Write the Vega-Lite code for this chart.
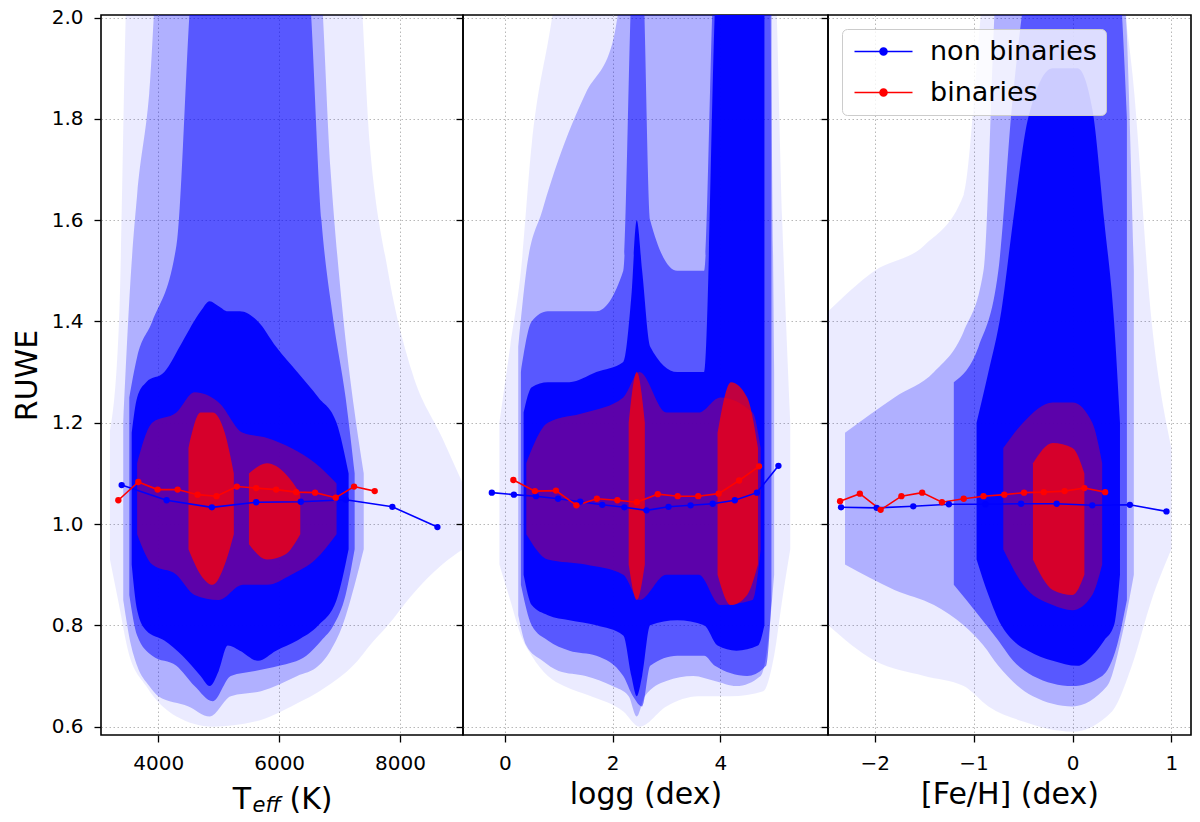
{
  "$schema": "https://vega.github.io/schema/vega-lite/v6.json",
  "padding": {"left": 11, "top": 6, "right": 5, "bottom": 5},
  "bounds": "flush",
  "spacing": 0,
  "datasets": {
    "teff_cloud": [
      {"level": "halo", "part": "a", "x": 3200, "lo": 0.93, "hi": 1.18},
      {"level": "halo", "part": "a", "x": 3350, "lo": 0.84, "hi": 1.4},
      {"level": "halo", "part": "a", "x": 3500, "lo": 0.75, "hi": 2.1},
      {"level": "halo", "part": "a", "x": 3800, "lo": 0.68, "hi": 2.1},
      {"level": "halo", "part": "a", "x": 4300, "lo": 0.62, "hi": 2.1},
      {"level": "halo", "part": "a", "x": 4900, "lo": 0.6, "hi": 2.1},
      {"level": "halo", "part": "a", "x": 5600, "lo": 0.61, "hi": 2.1},
      {"level": "halo", "part": "a", "x": 6200, "lo": 0.64, "hi": 2.1},
      {"level": "halo", "part": "a", "x": 6800, "lo": 0.68, "hi": 2.1},
      {"level": "halo", "part": "a", "x": 7300, "lo": 0.73, "hi": 2.1},
      {"level": "halo", "part": "a", "x": 7500, "lo": 0.76, "hi": 1.75},
      {"level": "halo", "part": "a", "x": 7800, "lo": 0.8, "hi": 1.5},
      {"level": "halo", "part": "a", "x": 8200, "lo": 0.86, "hi": 1.3},
      {"level": "halo", "part": "a", "x": 8700, "lo": 0.92, "hi": 1.17},
      {"level": "halo", "part": "a", "x": 9040, "lo": 0.95, "hi": 1.08},
      {"level": "mid", "part": "a", "x": 3420, "lo": 0.85, "hi": 1.2},
      {"level": "mid", "part": "a", "x": 3550, "lo": 0.76, "hi": 1.5},
      {"level": "mid", "part": "a", "x": 3650, "lo": 0.72, "hi": 1.65},
      {"level": "mid", "part": "a", "x": 3850, "lo": 0.68, "hi": 1.85},
      {"level": "mid", "part": "a", "x": 4000, "lo": 0.66, "hi": 2.1},
      {"level": "mid", "part": "a", "x": 4500, "lo": 0.64, "hi": 2.1},
      {"level": "mid", "part": "a", "x": 4850, "lo": 0.62, "hi": 2.1},
      {"level": "mid", "part": "a", "x": 5200, "lo": 0.66, "hi": 2.1},
      {"level": "mid", "part": "a", "x": 5700, "lo": 0.67, "hi": 2.1},
      {"level": "mid", "part": "a", "x": 6300, "lo": 0.7, "hi": 2.1},
      {"level": "mid", "part": "a", "x": 6650, "lo": 0.72, "hi": 2.1},
      {"level": "mid", "part": "a", "x": 6850, "lo": 0.75, "hi": 1.7},
      {"level": "mid", "part": "a", "x": 7050, "lo": 0.8, "hi": 1.42},
      {"level": "mid", "part": "a", "x": 7250, "lo": 0.88, "hi": 1.22},
      {"level": "mid", "part": "a", "x": 7400, "lo": 0.95, "hi": 1.1},
      {"level": "thick", "part": "a", "x": 3520, "lo": 0.86, "hi": 1.25},
      {"level": "thick", "part": "a", "x": 3650, "lo": 0.78, "hi": 1.33},
      {"level": "thick", "part": "a", "x": 3900, "lo": 0.74, "hi": 1.4},
      {"level": "thick", "part": "a", "x": 4300, "lo": 0.72, "hi": 1.55},
      {"level": "thick", "part": "a", "x": 4600, "lo": 0.68, "hi": 2.1},
      {"level": "thick", "part": "a", "x": 4900, "lo": 0.65, "hi": 2.1},
      {"level": "thick", "part": "a", "x": 5200, "lo": 0.7, "hi": 2.1},
      {"level": "thick", "part": "a", "x": 5600, "lo": 0.71, "hi": 2.1},
      {"level": "thick", "part": "a", "x": 6000, "lo": 0.72, "hi": 2.1},
      {"level": "thick", "part": "a", "x": 6450, "lo": 0.74, "hi": 2.1},
      {"level": "thick", "part": "a", "x": 6700, "lo": 0.77, "hi": 1.6},
      {"level": "thick", "part": "a", "x": 6900, "lo": 0.8, "hi": 1.4},
      {"level": "thick", "part": "a", "x": 7100, "lo": 0.86, "hi": 1.25},
      {"level": "thick", "part": "a", "x": 7250, "lo": 0.95, "hi": 1.1},
      {"level": "dense", "part": "a", "x": 3560, "lo": 0.92, "hi": 1.18},
      {"level": "dense", "part": "a", "x": 3650, "lo": 0.83, "hi": 1.25},
      {"level": "dense", "part": "a", "x": 3800, "lo": 0.79, "hi": 1.28},
      {"level": "dense", "part": "a", "x": 4100, "lo": 0.77, "hi": 1.3},
      {"level": "dense", "part": "a", "x": 4400, "lo": 0.74, "hi": 1.36},
      {"level": "dense", "part": "a", "x": 4700, "lo": 0.7, "hi": 1.42},
      {"level": "dense", "part": "a", "x": 4850, "lo": 0.68, "hi": 1.44},
      {"level": "dense", "part": "a", "x": 5000, "lo": 0.71, "hi": 1.43},
      {"level": "dense", "part": "a", "x": 5150, "lo": 0.76, "hi": 1.42},
      {"level": "dense", "part": "a", "x": 5350, "lo": 0.75, "hi": 1.42},
      {"level": "dense", "part": "a", "x": 5650, "lo": 0.73, "hi": 1.4},
      {"level": "dense", "part": "a", "x": 5950, "lo": 0.75, "hi": 1.35},
      {"level": "dense", "part": "a", "x": 6300, "lo": 0.77, "hi": 1.3},
      {"level": "dense", "part": "a", "x": 6650, "lo": 0.8, "hi": 1.25},
      {"level": "dense", "part": "a", "x": 6950, "lo": 0.85, "hi": 1.2},
      {"level": "dense", "part": "a", "x": 7150, "lo": 0.95, "hi": 1.1},
      {"level": "wash", "part": "a", "x": 3650, "lo": 0.98, "hi": 1.12},
      {"level": "wash", "part": "a", "x": 3900, "lo": 0.92, "hi": 1.2},
      {"level": "wash", "part": "a", "x": 4300, "lo": 0.9, "hi": 1.22},
      {"level": "wash", "part": "a", "x": 4600, "lo": 0.86, "hi": 1.26},
      {"level": "wash", "part": "a", "x": 5000, "lo": 0.85, "hi": 1.24},
      {"level": "wash", "part": "a", "x": 5400, "lo": 0.88, "hi": 1.18},
      {"level": "wash", "part": "a", "x": 5800, "lo": 0.88, "hi": 1.17},
      {"level": "wash", "part": "a", "x": 6200, "lo": 0.9, "hi": 1.15},
      {"level": "wash", "part": "a", "x": 6600, "lo": 0.93, "hi": 1.12},
      {"level": "wash", "part": "a", "x": 6950, "lo": 0.98, "hi": 1.08},
      {"level": "red", "part": "b", "x": 4500, "lo": 0.95, "hi": 1.15},
      {"level": "red", "part": "b", "x": 4700, "lo": 0.9, "hi": 1.22},
      {"level": "red", "part": "b", "x": 4900, "lo": 0.88, "hi": 1.22},
      {"level": "red", "part": "b", "x": 5100, "lo": 0.92, "hi": 1.18},
      {"level": "red", "part": "b", "x": 5250, "lo": 0.98, "hi": 1.1},
      {"level": "red", "part": "c", "x": 5500, "lo": 0.96, "hi": 1.1},
      {"level": "red", "part": "c", "x": 5800, "lo": 0.93, "hi": 1.12},
      {"level": "red", "part": "c", "x": 6100, "lo": 0.94, "hi": 1.1},
      {"level": "red", "part": "c", "x": 6350, "lo": 0.98, "hi": 1.06}
    ],
    "logg_cloud": [
      {"level": "halo", "part": "a", "x": -0.1, "lo": 0.92, "hi": 1.2},
      {"level": "halo", "part": "a", "x": 0.1, "lo": 0.85, "hi": 1.35},
      {"level": "halo", "part": "a", "x": 0.3, "lo": 0.78, "hi": 1.5},
      {"level": "halo", "part": "a", "x": 0.5, "lo": 0.74, "hi": 1.75},
      {"level": "halo", "part": "a", "x": 0.8, "lo": 0.7, "hi": 1.95},
      {"level": "halo", "part": "a", "x": 1.1, "lo": 0.68, "hi": 2.1},
      {"level": "halo", "part": "a", "x": 1.6, "lo": 0.66, "hi": 2.1},
      {"level": "halo", "part": "a", "x": 2.2, "lo": 0.63, "hi": 2.1},
      {"level": "halo", "part": "a", "x": 2.5, "lo": 0.6, "hi": 2.1},
      {"level": "halo", "part": "a", "x": 3.0, "lo": 0.64, "hi": 2.1},
      {"level": "halo", "part": "a", "x": 3.6, "lo": 0.66, "hi": 2.1},
      {"level": "halo", "part": "a", "x": 4.2, "lo": 0.66, "hi": 2.1},
      {"level": "halo", "part": "a", "x": 4.8, "lo": 0.67, "hi": 2.1},
      {"level": "halo", "part": "a", "x": 5.0, "lo": 0.74, "hi": 2.1},
      {"level": "halo", "part": "a", "x": 5.15, "lo": 0.85, "hi": 1.6},
      {"level": "halo", "part": "a", "x": 5.3, "lo": 0.95, "hi": 1.2},
      {"level": "mid", "part": "a", "x": 0.25, "lo": 0.82, "hi": 1.35},
      {"level": "mid", "part": "a", "x": 0.4, "lo": 0.76, "hi": 1.5},
      {"level": "mid", "part": "a", "x": 0.7, "lo": 0.73, "hi": 1.62},
      {"level": "mid", "part": "a", "x": 1.0, "lo": 0.71, "hi": 1.72},
      {"level": "mid", "part": "a", "x": 1.5, "lo": 0.7, "hi": 1.85},
      {"level": "mid", "part": "a", "x": 2.0, "lo": 0.68, "hi": 1.95},
      {"level": "mid", "part": "a", "x": 2.3, "lo": 0.66, "hi": 2.1},
      {"level": "mid", "part": "a", "x": 2.45, "lo": 0.62, "hi": 2.1},
      {"level": "mid", "part": "a", "x": 2.6, "lo": 0.66, "hi": 2.1},
      {"level": "mid", "part": "a", "x": 3.0, "lo": 0.69, "hi": 2.1},
      {"level": "mid", "part": "a", "x": 3.5, "lo": 0.7, "hi": 2.1},
      {"level": "mid", "part": "a", "x": 3.9, "lo": 0.69, "hi": 2.1},
      {"level": "mid", "part": "a", "x": 4.3, "lo": 0.68, "hi": 2.1},
      {"level": "mid", "part": "a", "x": 4.75, "lo": 0.7, "hi": 2.1},
      {"level": "mid", "part": "a", "x": 4.9, "lo": 0.78, "hi": 2.1},
      {"level": "mid", "part": "a", "x": 5.0, "lo": 0.9, "hi": 1.3},
      {"level": "thick", "part": "a", "x": 0.3, "lo": 0.88, "hi": 1.3},
      {"level": "thick", "part": "a", "x": 0.5, "lo": 0.8, "hi": 1.4},
      {"level": "thick", "part": "a", "x": 0.8, "lo": 0.77, "hi": 1.42},
      {"level": "thick", "part": "a", "x": 1.2, "lo": 0.75, "hi": 1.42},
      {"level": "thick", "part": "a", "x": 1.7, "lo": 0.74, "hi": 1.42},
      {"level": "thick", "part": "a", "x": 2.2, "lo": 0.7, "hi": 1.5},
      {"level": "thick", "part": "a", "x": 2.38, "lo": 0.66, "hi": 2.1},
      {"level": "thick", "part": "a", "x": 2.55, "lo": 0.64, "hi": 2.1},
      {"level": "thick", "part": "a", "x": 2.7, "lo": 0.72, "hi": 1.6},
      {"level": "thick", "part": "a", "x": 3.2, "lo": 0.74, "hi": 1.5},
      {"level": "thick", "part": "a", "x": 3.7, "lo": 0.74, "hi": 1.5},
      {"level": "thick", "part": "a", "x": 3.9, "lo": 0.72, "hi": 2.1},
      {"level": "thick", "part": "a", "x": 4.5, "lo": 0.7, "hi": 2.1},
      {"level": "thick", "part": "a", "x": 4.85, "lo": 0.72, "hi": 2.1},
      {"level": "thick", "part": "a", "x": 4.95, "lo": 0.85, "hi": 2.1},
      {"level": "dense", "part": "a", "x": 0.35, "lo": 0.9, "hi": 1.22},
      {"level": "dense", "part": "a", "x": 0.5, "lo": 0.84, "hi": 1.27},
      {"level": "dense", "part": "a", "x": 0.8, "lo": 0.82, "hi": 1.28},
      {"level": "dense", "part": "a", "x": 1.2, "lo": 0.81, "hi": 1.28},
      {"level": "dense", "part": "a", "x": 1.7, "lo": 0.8, "hi": 1.3},
      {"level": "dense", "part": "a", "x": 2.2, "lo": 0.78, "hi": 1.32},
      {"level": "dense", "part": "a", "x": 2.35, "lo": 0.7, "hi": 1.45},
      {"level": "dense", "part": "a", "x": 2.45, "lo": 0.66, "hi": 1.6},
      {"level": "dense", "part": "a", "x": 2.55, "lo": 0.7, "hi": 1.5},
      {"level": "dense", "part": "a", "x": 2.7, "lo": 0.8, "hi": 1.35},
      {"level": "dense", "part": "a", "x": 3.2, "lo": 0.81, "hi": 1.3},
      {"level": "dense", "part": "a", "x": 3.7, "lo": 0.8, "hi": 1.3},
      {"level": "dense", "part": "a", "x": 3.95, "lo": 0.76, "hi": 2.1},
      {"level": "dense", "part": "a", "x": 4.3, "lo": 0.75, "hi": 2.1},
      {"level": "dense", "part": "a", "x": 4.7, "lo": 0.76, "hi": 2.1},
      {"level": "dense", "part": "a", "x": 4.82, "lo": 0.8, "hi": 2.1},
      {"level": "wash", "part": "a", "x": 0.4, "lo": 0.98, "hi": 1.12},
      {"level": "wash", "part": "a", "x": 0.8, "lo": 0.93, "hi": 1.2},
      {"level": "wash", "part": "a", "x": 1.5, "lo": 0.92, "hi": 1.22},
      {"level": "wash", "part": "a", "x": 2.2, "lo": 0.9, "hi": 1.25},
      {"level": "wash", "part": "a", "x": 2.5, "lo": 0.85, "hi": 1.3},
      {"level": "wash", "part": "a", "x": 3.0, "lo": 0.9, "hi": 1.22},
      {"level": "wash", "part": "a", "x": 3.6, "lo": 0.9, "hi": 1.22},
      {"level": "wash", "part": "a", "x": 4.0, "lo": 0.84, "hi": 1.25},
      {"level": "wash", "part": "a", "x": 4.6, "lo": 0.85, "hi": 1.22},
      {"level": "wash", "part": "a", "x": 4.75, "lo": 0.95, "hi": 1.15},
      {"level": "red", "part": "b", "x": 2.3, "lo": 0.92, "hi": 1.2},
      {"level": "red", "part": "b", "x": 2.45, "lo": 0.85, "hi": 1.3},
      {"level": "red", "part": "b", "x": 2.6, "lo": 0.92, "hi": 1.2},
      {"level": "red", "part": "c", "x": 3.95, "lo": 0.9, "hi": 1.18},
      {"level": "red", "part": "c", "x": 4.2, "lo": 0.84, "hi": 1.28},
      {"level": "red", "part": "c", "x": 4.5, "lo": 0.86, "hi": 1.25},
      {"level": "red", "part": "c", "x": 4.7, "lo": 0.92, "hi": 1.15}
    ],
    "feh_cloud": [
      {"level": "halo", "part": "a", "x": -2.47, "lo": 0.8, "hi": 1.42},
      {"level": "halo", "part": "a", "x": -2.0, "lo": 0.73, "hi": 1.5},
      {"level": "halo", "part": "a", "x": -1.5, "lo": 0.7, "hi": 1.55},
      {"level": "halo", "part": "a", "x": -1.1, "lo": 0.68, "hi": 1.65},
      {"level": "halo", "part": "a", "x": -0.85, "lo": 0.64, "hi": 2.1},
      {"level": "halo", "part": "a", "x": -0.5, "lo": 0.61, "hi": 2.1},
      {"level": "halo", "part": "a", "x": 0.0, "lo": 0.59, "hi": 2.1},
      {"level": "halo", "part": "a", "x": 0.4, "lo": 0.63, "hi": 2.1},
      {"level": "halo", "part": "a", "x": 0.6, "lo": 0.72, "hi": 1.9},
      {"level": "halo", "part": "a", "x": 0.8, "lo": 0.85, "hi": 1.4},
      {"level": "halo", "part": "a", "x": 1.0, "lo": 0.95, "hi": 1.15},
      {"level": "mid", "part": "a", "x": -2.3, "lo": 0.92, "hi": 1.18},
      {"level": "mid", "part": "a", "x": -1.8, "lo": 0.87, "hi": 1.25},
      {"level": "mid", "part": "a", "x": -1.4, "lo": 0.84, "hi": 1.3},
      {"level": "mid", "part": "a", "x": -1.1, "lo": 0.8, "hi": 1.38},
      {"level": "mid", "part": "a", "x": -0.9, "lo": 0.76, "hi": 1.5},
      {"level": "mid", "part": "a", "x": -0.75, "lo": 0.72, "hi": 2.1},
      {"level": "mid", "part": "a", "x": -0.4, "lo": 0.66, "hi": 2.1},
      {"level": "mid", "part": "a", "x": 0.0, "lo": 0.64, "hi": 2.1},
      {"level": "mid", "part": "a", "x": 0.35, "lo": 0.68, "hi": 2.1},
      {"level": "mid", "part": "a", "x": 0.5, "lo": 0.78, "hi": 2.1},
      {"level": "mid", "part": "a", "x": 0.62, "lo": 0.9, "hi": 1.5},
      {"level": "thick", "part": "a", "x": -1.2, "lo": 0.88, "hi": 1.28},
      {"level": "thick", "part": "a", "x": -0.95, "lo": 0.82, "hi": 1.35},
      {"level": "thick", "part": "a", "x": -0.75, "lo": 0.77, "hi": 1.5},
      {"level": "thick", "part": "a", "x": -0.6, "lo": 0.73, "hi": 1.85},
      {"level": "thick", "part": "a", "x": -0.4, "lo": 0.7, "hi": 2.1},
      {"level": "thick", "part": "a", "x": 0.0, "lo": 0.68, "hi": 2.1},
      {"level": "thick", "part": "a", "x": 0.3, "lo": 0.7, "hi": 2.1},
      {"level": "thick", "part": "a", "x": 0.45, "lo": 0.76, "hi": 2.1},
      {"level": "thick", "part": "a", "x": 0.55, "lo": 0.85, "hi": 1.8},
      {"level": "dense", "part": "a", "x": -0.97, "lo": 0.93, "hi": 1.2},
      {"level": "dense", "part": "a", "x": -0.85, "lo": 0.86, "hi": 1.3},
      {"level": "dense", "part": "a", "x": -0.72, "lo": 0.8, "hi": 1.42},
      {"level": "dense", "part": "a", "x": -0.6, "lo": 0.77, "hi": 1.6},
      {"level": "dense", "part": "a", "x": -0.45, "lo": 0.75, "hi": 1.8},
      {"level": "dense", "part": "a", "x": -0.2, "lo": 0.73, "hi": 1.9},
      {"level": "dense", "part": "a", "x": 0.05, "lo": 0.72, "hi": 1.9},
      {"level": "dense", "part": "a", "x": 0.2, "lo": 0.74, "hi": 1.82},
      {"level": "dense", "part": "a", "x": 0.32, "lo": 0.77, "hi": 1.6},
      {"level": "dense", "part": "a", "x": 0.42, "lo": 0.8, "hi": 1.4},
      {"level": "dense", "part": "a", "x": 0.48, "lo": 0.9, "hi": 1.2},
      {"level": "wash", "part": "a", "x": -0.7, "lo": 0.95, "hi": 1.15},
      {"level": "wash", "part": "a", "x": -0.5, "lo": 0.88, "hi": 1.2},
      {"level": "wash", "part": "a", "x": -0.2, "lo": 0.84, "hi": 1.24},
      {"level": "wash", "part": "a", "x": 0.0, "lo": 0.83, "hi": 1.24},
      {"level": "wash", "part": "a", "x": 0.2, "lo": 0.86, "hi": 1.2},
      {"level": "wash", "part": "a", "x": 0.3, "lo": 0.92, "hi": 1.12},
      {"level": "red", "part": "b", "x": -0.4, "lo": 0.93, "hi": 1.12},
      {"level": "red", "part": "b", "x": -0.2, "lo": 0.87, "hi": 1.16},
      {"level": "red", "part": "b", "x": 0.0, "lo": 0.86, "hi": 1.15},
      {"level": "red", "part": "b", "x": 0.12, "lo": 0.9, "hi": 1.1}
    ],
    "teff_lines": [
      {"series": "non binaries", "x": 3394, "ruwe": 1.077},
      {"series": "non binaries", "x": 4138, "ruwe": 1.047},
      {"series": "non binaries", "x": 4887, "ruwe": 1.033},
      {"series": "non binaries", "x": 5620, "ruwe": 1.043},
      {"series": "non binaries", "x": 6358, "ruwe": 1.044},
      {"series": "non binaries", "x": 7102, "ruwe": 1.048},
      {"series": "non binaries", "x": 7874, "ruwe": 1.034},
      {"series": "non binaries", "x": 8620, "ruwe": 0.994},
      {"series": "binaries", "x": 3339, "ruwe": 1.047},
      {"series": "binaries", "x": 3669, "ruwe": 1.083},
      {"series": "binaries", "x": 3989, "ruwe": 1.068},
      {"series": "binaries", "x": 4320, "ruwe": 1.068},
      {"series": "binaries", "x": 4650, "ruwe": 1.058},
      {"series": "binaries", "x": 4964, "ruwe": 1.055},
      {"series": "binaries", "x": 5300, "ruwe": 1.074},
      {"series": "binaries", "x": 5620, "ruwe": 1.071},
      {"series": "binaries", "x": 5950, "ruwe": 1.068},
      {"series": "binaries", "x": 6281, "ruwe": 1.063},
      {"series": "binaries", "x": 6595, "ruwe": 1.062},
      {"series": "binaries", "x": 6937, "ruwe": 1.052},
      {"series": "binaries", "x": 7240, "ruwe": 1.074},
      {"series": "binaries", "x": 7582, "ruwe": 1.065}
    ],
    "logg_lines": [
      {"series": "non binaries", "x": -0.24, "ruwe": 1.062},
      {"series": "non binaries", "x": 0.17, "ruwe": 1.058},
      {"series": "non binaries", "x": 0.58, "ruwe": 1.055},
      {"series": "non binaries", "x": 0.99, "ruwe": 1.05},
      {"series": "non binaries", "x": 1.4, "ruwe": 1.044},
      {"series": "non binaries", "x": 1.81, "ruwe": 1.038},
      {"series": "non binaries", "x": 2.22, "ruwe": 1.033},
      {"series": "non binaries", "x": 2.63, "ruwe": 1.027},
      {"series": "non binaries", "x": 3.04, "ruwe": 1.034},
      {"series": "non binaries", "x": 3.45, "ruwe": 1.037},
      {"series": "non binaries", "x": 3.86, "ruwe": 1.04},
      {"series": "non binaries", "x": 4.27, "ruwe": 1.047},
      {"series": "non binaries", "x": 4.68, "ruwe": 1.062},
      {"series": "non binaries", "x": 5.08, "ruwe": 1.115},
      {"series": "binaries", "x": 0.16, "ruwe": 1.087},
      {"series": "binaries", "x": 0.56, "ruwe": 1.065},
      {"series": "binaries", "x": 0.95, "ruwe": 1.066},
      {"series": "binaries", "x": 1.33, "ruwe": 1.037},
      {"series": "binaries", "x": 1.71, "ruwe": 1.05},
      {"series": "binaries", "x": 2.09, "ruwe": 1.047},
      {"series": "binaries", "x": 2.45, "ruwe": 1.043},
      {"series": "binaries", "x": 2.84, "ruwe": 1.059},
      {"series": "binaries", "x": 3.21, "ruwe": 1.055},
      {"series": "binaries", "x": 3.59, "ruwe": 1.055},
      {"series": "binaries", "x": 3.97, "ruwe": 1.06},
      {"series": "binaries", "x": 4.35, "ruwe": 1.086},
      {"series": "binaries", "x": 4.72, "ruwe": 1.114}
    ],
    "feh_lines": [
      {"series": "non binaries", "x": -2.34, "ruwe": 1.033},
      {"series": "non binaries", "x": -1.98, "ruwe": 1.032},
      {"series": "non binaries", "x": -1.61, "ruwe": 1.035},
      {"series": "non binaries", "x": -1.25, "ruwe": 1.039},
      {"series": "non binaries", "x": -0.88, "ruwe": 1.039},
      {"series": "non binaries", "x": -0.52, "ruwe": 1.04},
      {"series": "non binaries", "x": -0.16, "ruwe": 1.04},
      {"series": "non binaries", "x": 0.2, "ruwe": 1.037},
      {"series": "non binaries", "x": 0.58, "ruwe": 1.038},
      {"series": "non binaries", "x": 0.95, "ruwe": 1.025},
      {"series": "binaries", "x": -2.35, "ruwe": 1.045},
      {"series": "binaries", "x": -2.15, "ruwe": 1.06},
      {"series": "binaries", "x": -1.94, "ruwe": 1.028},
      {"series": "binaries", "x": -1.73, "ruwe": 1.055},
      {"series": "binaries", "x": -1.52, "ruwe": 1.062},
      {"series": "binaries", "x": -1.32, "ruwe": 1.043},
      {"series": "binaries", "x": -1.1, "ruwe": 1.05},
      {"series": "binaries", "x": -0.9, "ruwe": 1.055},
      {"series": "binaries", "x": -0.69, "ruwe": 1.058},
      {"series": "binaries", "x": -0.49, "ruwe": 1.062},
      {"series": "binaries", "x": -0.29, "ruwe": 1.063},
      {"series": "binaries", "x": -0.08, "ruwe": 1.065},
      {"series": "binaries", "x": 0.12, "ruwe": 1.071},
      {"series": "binaries", "x": 0.33, "ruwe": 1.063}
    ]
  },
  "hconcat": [
    {
      "width": 362,
      "height": 720,
      "resolve": {"axis": {"x": "independent"}},
      "layer": [
        {
          "data": {"name": "teff_cloud"},
          "transform": [{"filter": "datum.level === 'halo'"}],
          "mark": {"type": "area", "color": "#0000ff", "opacity": 0.08, "clip": true, "interpolate": "monotone"},
          "encoding": {
            "x": {"field": "x", "type": "quantitative", "scale": {"domain": [3052, 9043], "nice": false, "zero": false},
                  "axis": {"values": [4000, 6000, 8000], "format": "d", "title": "T", "titleX": 140.5, "titleAlign": "center", "titleY": 73.4}},
            "y": {"field": "lo", "type": "quantitative", "scale": {"domain": [0.5835, 2.005], "nice": false, "zero": false},
                  "axis": {"values": [0.6, 0.8, 1.0, 1.2, 1.4, 1.6, 1.8, 2.0], "format": ".1f", "title": "RUWE"}},
            "y2": {"field": "hi"},
            "detail": {"field": "part"}
          }
        },
        {
          "data": {"name": "teff_cloud"},
          "transform": [{"filter": "datum.level === 'mid'"}],
          "mark": {"type": "area", "color": "#0000ff", "opacity": 0.25, "clip": true, "interpolate": "monotone"},
          "encoding": {
            "x": {"field": "x", "type": "quantitative", "scale": {"domain": [3052, 9043], "nice": false, "zero": false}, "axis": null},
            "y": {"field": "lo", "type": "quantitative", "scale": {"domain": [0.5835, 2.005], "nice": false, "zero": false},
                  "axis": {"values": [0.6, 0.8, 1.0, 1.2, 1.4, 1.6, 1.8, 2.0], "format": ".1f", "title": "RUWE"}},
            "y2": {"field": "hi"},
            "detail": {"field": "part"}
          }
        },
        {
          "data": {"name": "teff_cloud"},
          "transform": [{"filter": "datum.level === 'thick'"}],
          "mark": {"type": "area", "color": "#0000ff", "opacity": 0.5, "clip": true, "interpolate": "monotone"},
          "encoding": {
            "x": {"field": "x", "type": "quantitative", "scale": {"domain": [3052, 9043], "nice": false, "zero": false}, "axis": null},
            "y": {"field": "lo", "type": "quantitative", "scale": {"domain": [0.5835, 2.005], "nice": false, "zero": false},
                  "axis": {"values": [0.6, 0.8, 1.0, 1.2, 1.4, 1.6, 1.8, 2.0], "format": ".1f", "title": "RUWE"}},
            "y2": {"field": "hi"},
            "detail": {"field": "part"}
          }
        },
        {
          "data": {"name": "teff_cloud"},
          "transform": [{"filter": "datum.level === 'dense'"}],
          "mark": {"type": "area", "color": "#0000ff", "opacity": 0.95, "clip": true, "interpolate": "monotone"},
          "encoding": {
            "x": {"field": "x", "type": "quantitative", "scale": {"domain": [3052, 9043], "nice": false, "zero": false}, "axis": null},
            "y": {"field": "lo", "type": "quantitative", "scale": {"domain": [0.5835, 2.005], "nice": false, "zero": false},
                  "axis": {"values": [0.6, 0.8, 1.0, 1.2, 1.4, 1.6, 1.8, 2.0], "format": ".1f", "title": "RUWE"}},
            "y2": {"field": "hi"},
            "detail": {"field": "part"}
          }
        },
        {
          "data": {"name": "teff_cloud"},
          "transform": [{"filter": "datum.level === 'wash'"}],
          "mark": {"type": "area", "color": "#e0002a", "opacity": 0.4, "clip": true, "interpolate": "monotone"},
          "encoding": {
            "x": {"field": "x", "type": "quantitative", "scale": {"domain": [3052, 9043], "nice": false, "zero": false}, "axis": null},
            "y": {"field": "lo", "type": "quantitative", "scale": {"domain": [0.5835, 2.005], "nice": false, "zero": false},
                  "axis": {"values": [0.6, 0.8, 1.0, 1.2, 1.4, 1.6, 1.8, 2.0], "format": ".1f", "title": "RUWE"}},
            "y2": {"field": "hi"},
            "detail": {"field": "part"}
          }
        },
        {
          "data": {"name": "teff_cloud"},
          "transform": [{"filter": "datum.level === 'red'"}],
          "mark": {"type": "area", "color": "#ff0000", "opacity": 0.75, "clip": true, "interpolate": "monotone"},
          "encoding": {
            "x": {"field": "x", "type": "quantitative", "scale": {"domain": [3052, 9043], "nice": false, "zero": false},
                  "axis": {"orient": "bottom", "title": "(K)", "titleX": 209.5, "titleY": 73.4, "titleAlign": "center",
                           "labels": false, "ticks": false, "domain": false, "grid": false}},
            "y": {"field": "lo", "type": "quantitative", "scale": {"domain": [0.5835, 2.005], "nice": false, "zero": false},
                  "axis": {"values": [0.6, 0.8, 1.0, 1.2, 1.4, 1.6, 1.8, 2.0], "format": ".1f", "title": "RUWE"}},
            "y2": {"field": "hi"},
            "detail": {"field": "part"}
          }
        },
        {
          "data": {"name": "teff_lines"},
          "mark": {"type": "line", "strokeWidth": 1.6, "point": {"filled": true, "size": 40}},
          "encoding": {
            "x": {"field": "x", "type": "quantitative", "scale": {"domain": [3052, 9043], "nice": false, "zero": false},
                  "axis": {"orient": "bottom", "title": "eff", "titleFontStyle": "italic", "titleFontSize": 21, "titleX": 165, "titleY": 76.7,
                           "titleAlign": "center", "labels": false, "ticks": false, "domain": false, "grid": false}},
            "y": {"field": "ruwe", "type": "quantitative", "scale": {"domain": [0.5835, 2.005], "nice": false, "zero": false},
                  "axis": {"values": [0.6, 0.8, 1.0, 1.2, 1.4, 1.6, 1.8, 2.0], "format": ".1f", "title": "RUWE"}},
            "color": {"field": "series", "type": "nominal", "scale": {"domain": ["non binaries", "binaries"], "range": ["#0000ff", "#ff0000"]}, "legend": null}
          }
        }
      ]
    },
    {
      "width": 365,
      "height": 720,
      "encoding": {
        "x": {"field": "x", "type": "quantitative", "scale": {"domain": [-0.775, 6.0], "nice": false, "zero": false},
              "axis": {"values": [0, 2, 4], "format": "d", "title": "logg (dex)"}}
      },
      "layer": [
        {
          "data": {"name": "logg_cloud"},
          "transform": [{"filter": "datum.level === 'halo'"}],
          "mark": {"type": "area", "color": "#0000ff", "opacity": 0.08, "clip": true, "interpolate": "monotone"},
          "encoding": {
            "y": {"field": "lo", "type": "quantitative", "scale": {"domain": [0.5835, 2.005], "nice": false, "zero": false},
                  "axis": {"values": [0.6, 0.8, 1.0, 1.2, 1.4, 1.6, 1.8, 2.0], "labels": false, "title": null}},
            "y2": {"field": "hi"},
            "detail": {"field": "part"}
          }
        },
        {
          "data": {"name": "logg_cloud"},
          "transform": [{"filter": "datum.level === 'mid'"}],
          "mark": {"type": "area", "color": "#0000ff", "opacity": 0.25, "clip": true, "interpolate": "monotone"},
          "encoding": {
            "y": {"field": "lo", "type": "quantitative", "scale": {"domain": [0.5835, 2.005], "nice": false, "zero": false},
                  "axis": {"values": [0.6, 0.8, 1.0, 1.2, 1.4, 1.6, 1.8, 2.0], "labels": false, "title": null}},
            "y2": {"field": "hi"},
            "detail": {"field": "part"}
          }
        },
        {
          "data": {"name": "logg_cloud"},
          "transform": [{"filter": "datum.level === 'thick'"}],
          "mark": {"type": "area", "color": "#0000ff", "opacity": 0.5, "clip": true, "interpolate": "monotone"},
          "encoding": {
            "y": {"field": "lo", "type": "quantitative", "scale": {"domain": [0.5835, 2.005], "nice": false, "zero": false},
                  "axis": {"values": [0.6, 0.8, 1.0, 1.2, 1.4, 1.6, 1.8, 2.0], "labels": false, "title": null}},
            "y2": {"field": "hi"},
            "detail": {"field": "part"}
          }
        },
        {
          "data": {"name": "logg_cloud"},
          "transform": [{"filter": "datum.level === 'dense'"}],
          "mark": {"type": "area", "color": "#0000ff", "opacity": 0.95, "clip": true, "interpolate": "monotone"},
          "encoding": {
            "y": {"field": "lo", "type": "quantitative", "scale": {"domain": [0.5835, 2.005], "nice": false, "zero": false},
                  "axis": {"values": [0.6, 0.8, 1.0, 1.2, 1.4, 1.6, 1.8, 2.0], "labels": false, "title": null}},
            "y2": {"field": "hi"},
            "detail": {"field": "part"}
          }
        },
        {
          "data": {"name": "logg_cloud"},
          "transform": [{"filter": "datum.level === 'wash'"}],
          "mark": {"type": "area", "color": "#e0002a", "opacity": 0.4, "clip": true, "interpolate": "monotone"},
          "encoding": {
            "y": {"field": "lo", "type": "quantitative", "scale": {"domain": [0.5835, 2.005], "nice": false, "zero": false},
                  "axis": {"values": [0.6, 0.8, 1.0, 1.2, 1.4, 1.6, 1.8, 2.0], "labels": false, "title": null}},
            "y2": {"field": "hi"},
            "detail": {"field": "part"}
          }
        },
        {
          "data": {"name": "logg_cloud"},
          "transform": [{"filter": "datum.level === 'red'"}],
          "mark": {"type": "area", "color": "#ff0000", "opacity": 0.75, "clip": true, "interpolate": "monotone"},
          "encoding": {
            "y": {"field": "lo", "type": "quantitative", "scale": {"domain": [0.5835, 2.005], "nice": false, "zero": false},
                  "axis": {"values": [0.6, 0.8, 1.0, 1.2, 1.4, 1.6, 1.8, 2.0], "labels": false, "title": null}},
            "y2": {"field": "hi"},
            "detail": {"field": "part"}
          }
        },
        {
          "data": {"name": "logg_lines"},
          "mark": {"type": "line", "strokeWidth": 1.6, "point": {"filled": true, "size": 40}},
          "encoding": {
            "y": {"field": "ruwe", "type": "quantitative", "scale": {"domain": [0.5835, 2.005], "nice": false, "zero": false},
                  "axis": {"values": [0.6, 0.8, 1.0, 1.2, 1.4, 1.6, 1.8, 2.0], "labels": false, "title": null}},
            "color": {"field": "series", "type": "nominal", "scale": {"domain": ["non binaries", "binaries"], "range": ["#0000ff", "#ff0000"]}, "legend": null}
          }
        }
      ]
    },
    {
      "width": 363,
      "height": 720,
      "encoding": {
        "x": {"field": "x", "type": "quantitative", "scale": {"domain": [-2.472, 1.198], "nice": false, "zero": false},
              "axis": {"values": [-2, -1, 0, 1], "format": "d", "title": "[Fe/H] (dex)"}}
      },
      "layer": [
        {
          "data": {"name": "feh_cloud"},
          "transform": [{"filter": "datum.level === 'halo'"}],
          "mark": {"type": "area", "color": "#0000ff", "opacity": 0.08, "clip": true, "interpolate": "monotone"},
          "encoding": {
            "y": {"field": "lo", "type": "quantitative", "scale": {"domain": [0.5835, 2.005], "nice": false, "zero": false},
                  "axis": {"values": [0.6, 0.8, 1.0, 1.2, 1.4, 1.6, 1.8, 2.0], "labels": false, "title": null}},
            "y2": {"field": "hi"},
            "detail": {"field": "part"}
          }
        },
        {
          "data": {"name": "feh_cloud"},
          "transform": [{"filter": "datum.level === 'mid'"}],
          "mark": {"type": "area", "color": "#0000ff", "opacity": 0.25, "clip": true, "interpolate": "monotone"},
          "encoding": {
            "y": {"field": "lo", "type": "quantitative", "scale": {"domain": [0.5835, 2.005], "nice": false, "zero": false},
                  "axis": {"values": [0.6, 0.8, 1.0, 1.2, 1.4, 1.6, 1.8, 2.0], "labels": false, "title": null}},
            "y2": {"field": "hi"},
            "detail": {"field": "part"}
          }
        },
        {
          "data": {"name": "feh_cloud"},
          "transform": [{"filter": "datum.level === 'thick'"}],
          "mark": {"type": "area", "color": "#0000ff", "opacity": 0.5, "clip": true, "interpolate": "monotone"},
          "encoding": {
            "y": {"field": "lo", "type": "quantitative", "scale": {"domain": [0.5835, 2.005], "nice": false, "zero": false},
                  "axis": {"values": [0.6, 0.8, 1.0, 1.2, 1.4, 1.6, 1.8, 2.0], "labels": false, "title": null}},
            "y2": {"field": "hi"},
            "detail": {"field": "part"}
          }
        },
        {
          "data": {"name": "feh_cloud"},
          "transform": [{"filter": "datum.level === 'dense'"}],
          "mark": {"type": "area", "color": "#0000ff", "opacity": 0.95, "clip": true, "interpolate": "monotone"},
          "encoding": {
            "y": {"field": "lo", "type": "quantitative", "scale": {"domain": [0.5835, 2.005], "nice": false, "zero": false},
                  "axis": {"values": [0.6, 0.8, 1.0, 1.2, 1.4, 1.6, 1.8, 2.0], "labels": false, "title": null}},
            "y2": {"field": "hi"},
            "detail": {"field": "part"}
          }
        },
        {
          "data": {"name": "feh_cloud"},
          "transform": [{"filter": "datum.level === 'wash'"}],
          "mark": {"type": "area", "color": "#e0002a", "opacity": 0.4, "clip": true, "interpolate": "monotone"},
          "encoding": {
            "y": {"field": "lo", "type": "quantitative", "scale": {"domain": [0.5835, 2.005], "nice": false, "zero": false},
                  "axis": {"values": [0.6, 0.8, 1.0, 1.2, 1.4, 1.6, 1.8, 2.0], "labels": false, "title": null}},
            "y2": {"field": "hi"},
            "detail": {"field": "part"}
          }
        },
        {
          "data": {"name": "feh_cloud"},
          "transform": [{"filter": "datum.level === 'red'"}],
          "mark": {"type": "area", "color": "#ff0000", "opacity": 0.75, "clip": true, "interpolate": "monotone"},
          "encoding": {
            "y": {"field": "lo", "type": "quantitative", "scale": {"domain": [0.5835, 2.005], "nice": false, "zero": false},
                  "axis": {"values": [0.6, 0.8, 1.0, 1.2, 1.4, 1.6, 1.8, 2.0], "labels": false, "title": null}},
            "y2": {"field": "hi"},
            "detail": {"field": "part"}
          }
        },
        {
          "data": {"name": "feh_lines"},
          "mark": {"type": "line", "strokeWidth": 1.6, "point": {"filled": true, "size": 40}},
          "encoding": {
            "y": {"field": "ruwe", "type": "quantitative", "scale": {"domain": [0.5835, 2.005], "nice": false, "zero": false},
                  "axis": {"values": [0.6, 0.8, 1.0, 1.2, 1.4, 1.6, 1.8, 2.0], "labels": false, "title": null}},
            "color": {
              "field": "series", "type": "nominal",
              "scale": {"domain": ["non binaries", "binaries"], "range": ["#0000ff", "#ff0000"]},
              "legend": {
                "title": null, "orient": "top-left", "offset": 14, "padding": 9, "zindex": 2,
                "fillColor": "rgba(255,255,255,0.8)", "strokeColor": "#cccccc", "cornerRadius": 5,
                "labelFontSize": 27, "labelColor": "#000000", "labelOffset": 33, "labelLimit": 0, "rowPadding": 13,
                "symbolType": "M-2.9,0L2.9,0M-0.35,0A0.35,0.35,0,1,0,0.35,0A0.35,0.35,0,1,0,-0.35,0Z",
                "symbolSize": 400, "symbolOffset": 19, "symbolStrokeWidth": 1.6,
                "encode": {"symbols": {"update": {"fill": {"scale": "color", "field": "value"}, "stroke": {"scale": "color", "field": "value"}}}}
              }
            }
          }
        }
      ]
    }
  ],
  "resolve": {"legend": {"color": "independent"}},
  "config": {
    "font": "DejaVu Sans",
    "view": {"stroke": "#000000", "strokeWidth": 1.6},
    "axis": {
      "labelFontSize": 20, "labelColor": "#000000", "labelPadding": 11,
      "tickSize": 7, "tickColor": "#000000", "tickWidth": 1.3, "domain": false,
      "grid": true, "gridColor": "#b0b0b0", "gridDash": [1.5, 2.5], "gridWidth": 0.9,
      "titleFontSize": 30, "titleFontWeight": "normal", "titleColor": "#000000", "zindex": 1
    },
    "axisX": {"titleBaseline": "alphabetic", "titleY": 68.4},
    "axisY": {"titlePadding": 9}
  }
}
